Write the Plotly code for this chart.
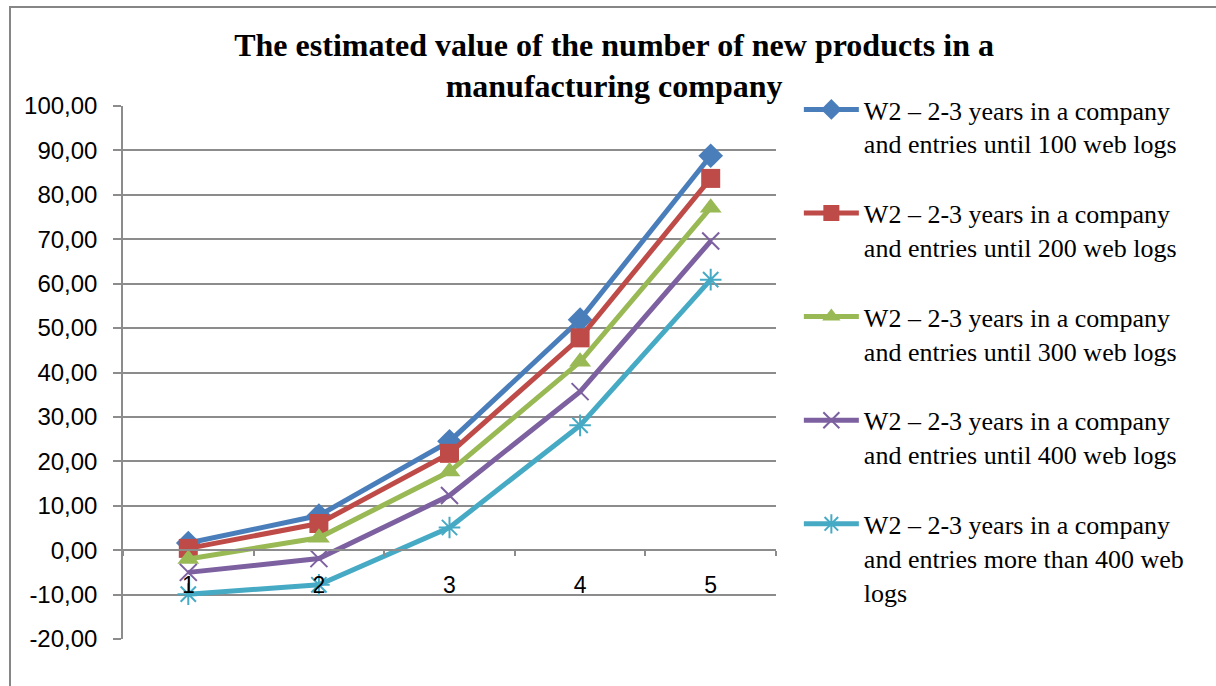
import plotly.graph_objects as go

categories = ["1", "2", "3", "4", "5"]
series_names = [
    "W2 – 2-3 years in a company<br>and entries until 100 web logs",
    "W2 – 2-3 years in a company<br>and entries until 200 web logs",
    "W2 – 2-3 years in a company<br>and entries until 300 web logs",
    "W2 – 2-3 years in a company<br>and entries until 400 web logs",
    "W2 – 2-3 years in a company<br>and entries more than 400 web<br>logs",
]
w100 = [1.6, 7.8, 24.5, 51.9, 88.8]
w200 = [0.4, 6.0, 21.8, 47.8, 83.7]
w300 = [-2.0, 2.8, 17.7, 42.4, 77.1]
w400 = [-5.0, -1.9, 12.3, 35.7, 69.6]
w400p = [-9.9, -7.8, 5.1, 28.1, 60.9]
y_ticks = [-20, -10, 0, 10, 20, 30, 40, 50, 60, 70, 80, 90, 100]
y_tick_labels = ["-20,00", "-10,00", "0,00", "10,00", "20,00", "30,00", "40,00",
                 "50,00", "60,00", "70,00", "80,00", "90,00", "100,00"]

series = [w100, w200, w300, w400, w400p]
colors = ["#4A7EBB", "#BE4B48", "#98B954", "#7D60A0", "#46AAC5"]
symbols = ["diamond", "square", "triangle-up", "x-thin-open", "asterisk-open"]
sizes = [19, 19, 19, 17, 18]

fig = go.Figure()
for i, (vals, name) in enumerate(zip(series, series_names)):
    open_sym = symbols[i].endswith("open")
    fig.add_trace(go.Scatter(
        x=categories, y=vals, name=name, mode="lines+markers",
        legendgroup="g%d" % i,
        line=dict(color=colors[i], width=5),
        marker=dict(symbol=symbols[i], size=sizes[i], color=colors[i],
                    line=dict(color=colors[i], width=2 if open_sym else 0)),
    ))

grid = "#8c8c8c"
fig.update_layout(
    width=1216, height=686,
    margin=dict(l=123, r=440, t=106, b=47),
    paper_bgcolor="white", plot_bgcolor="white",
    title=dict(
        text="<b>The estimated value of the number of new products in a<br>manufacturing company</b>",
        x=0.505, xanchor="center", y=0.919, yanchor="top",
        font=dict(family="Liberation Serif", size=32, color="black"),
    ),
    legend=dict(
        x=1.035, xanchor="left", y=1.0375, yanchor="top",
        font=dict(family="Liberation Serif", size=26, color="black"),
        tracegroupgap=33, valign="top", itemwidth=55,
        bgcolor="rgba(0,0,0,0)", maxheight=1,
    ),
    showlegend=True,
    xaxis=dict(
        type="category", range=[-0.5, 4.5],
        anchor="free", position=20 / 120,
        showline=True, linecolor=grid, linewidth=1.5,
        showgrid=False, zeroline=False,
        ticks="outside", tickson="boundaries", ticklen=5, tickcolor=grid, tickwidth=1.5,
        ticklabelstandoff=14,
        tickfont=dict(family="Liberation Sans", size=23, color="black"),
    ),
    yaxis=dict(
        range=[-20, 100], tickvals=y_ticks, ticktext=y_tick_labels,
        showline=True, linecolor=grid, linewidth=1.5,
        showgrid=True, gridcolor=grid, gridwidth=1.5,
        zeroline=False,
        ticks="outside", ticklen=8, tickcolor=grid, tickwidth=1.5,
        ticklabelstandoff=11,
        tickfont=dict(family="Liberation Sans", size=24, color="black"),
    ),
    shapes=[dict(type="rect", xref="paper", yref="paper",
                 x0=(10 - 123) / 653, x1=1.75, y0=-0.2, y1=(639 - 7) / 533,
                 line=dict(color="#868686", width=2), fillcolor="rgba(0,0,0,0)",
                 layer="below")],
)

fig.write_html("out.html", config={"displayModeBar": False},
               post_script="document.body.style.margin='0';")
